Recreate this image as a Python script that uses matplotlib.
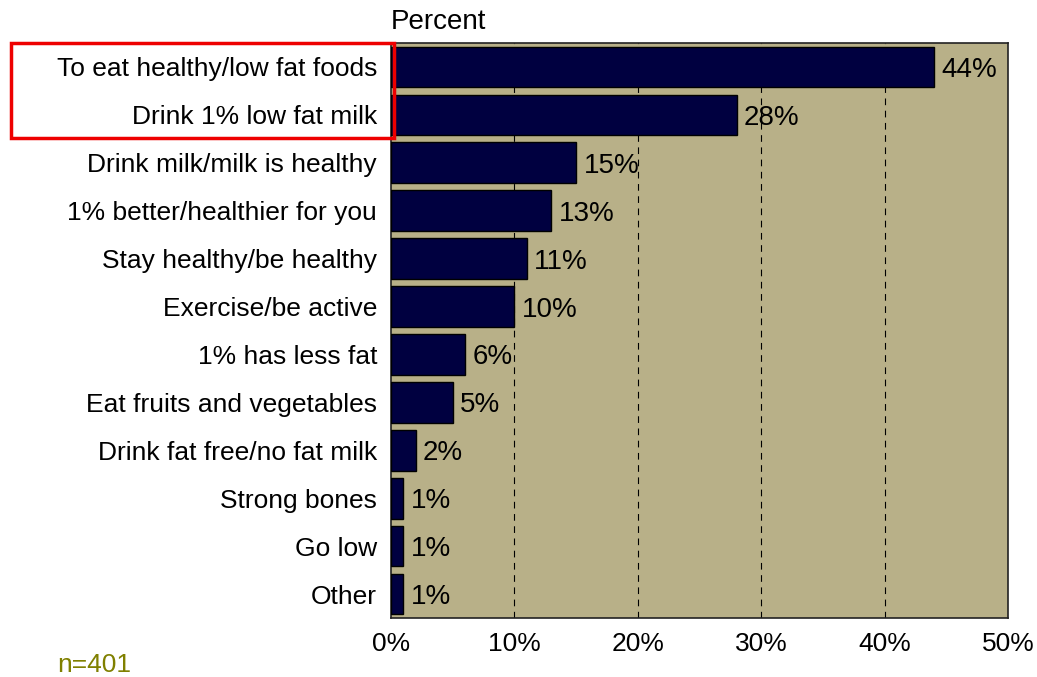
import matplotlib.pyplot as plt
from matplotlib.patches import Rectangle

plt.rcParams['font.family'] = ['Liberation Sans', 'DejaVu Sans']

# reasons given, top to bottom
reasons = [
    "To eat healthy/low fat foods",
    "Drink 1% low fat milk",
    "Drink milk/milk is healthy",
    "1% better/healthier for you",
    "Stay healthy/be healthy",
    "Exercise/be active",
    "1% has less fat",
    "Eat fruits and vegetables",
    "Drink fat free/no fat milk",
    "Strong bones",
    "Go low",
    "Other",
]
percents = [44, 28, 15, 13, 11, 10, 6, 5, 2, 1, 1, 1]
xticks = [0, 10, 20, 30, 40, 50]

fs = 19

fig = plt.figure(figsize=(10.37, 6.77), dpi=100)
ax = fig.add_axes([391 / 1037, 1 - 618 / 677, 617 / 1037, 575 / 677])
ax.set_facecolor('#B8B088')

ypos = list(range(len(reasons)))
ax.barh(ypos, percents, height=0.85, color='#000040', edgecolor='black',
        linewidth=1, zorder=3)
for y, p in zip(ypos, percents):
    ax.text(p + 0.6, y, f"{p}%", va='center_baseline', ha='left',
            fontsize=20, zorder=4)

ax.set_xlim(0, 50)
ax.set_ylim(len(reasons) - 0.5, -0.5)
ax.set_xticks(xticks)
ax.set_xticklabels([f"{t}%" for t in xticks], fontsize=fs)
ax.set_yticks(ypos)
ax.set_yticklabels(reasons, fontsize=fs)
ax.tick_params(length=0, pad=10)
for t in xticks[1:-1]:
    ax.axvline(t, color='black', linestyle=(0, (6, 5)), linewidth=0.8, zorder=2)
for s in ax.spines.values():
    s.set_linewidth(1.2)
    s.set_color('#222222')

fig.text(391 / 1037, 1 - 22 / 677, "Percent", fontsize=20, ha='left', va='center')
fig.text(57 / 1037, 1 - 665 / 677, "n=401", fontsize=fs, color='#808000',
         ha='left', va='center')

# highlight box around the top two reasons
fig.add_artist(Rectangle((11 / 1037, 1 - 138 / 677), 383 / 1037, 95 / 677,
                         transform=fig.transFigure, fill=False,
                         edgecolor='#EE0000', linewidth=2.5))

fig.savefig('out.png', dpi=100)
